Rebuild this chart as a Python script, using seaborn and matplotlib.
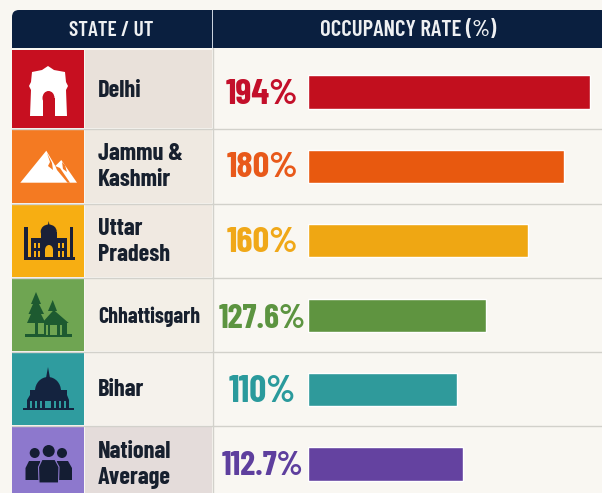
import matplotlib
matplotlib.use("Agg")
import matplotlib.pyplot as plt
from matplotlib.patches import Rectangle, Polygon, Circle, Ellipse, FancyBboxPatch
import pandas as pd
import seaborn as sns

sns.set_theme(style="white")
plt.rcParams['font.family'] = ['Barlow Condensed', 'DejaVu Sans']

# Dataset
states = ["Delhi", "Jammu &\nKashmir", "Uttar\nPradesh", "Chhattisgarh", "Bihar", "National\nAverage"]
rate_labels = ["194%", "180%", "160%", "127.6%", "110%", "112.7%"]
# drawn bar lengths (they are not quite proportional to the printed rates)
bar_values = [194, 175.8, 150.8, 122.3, 102.3, 106.5]
bar_colors = ["#c20f1e", "#e8590f", "#efa713", "#5f9440", "#2f9a9b", "#6442a0"]
icon_colors = ["#c70f20", "#f47a22", "#f7ae12", "#6fa552", "#2f9c9f", "#8d78cd"]
label_colors = ["#c30f2a", "#e8591a", "#f0a818", "#5c9440", "#2a9a9c", "#5e3f9e"]
name_colors = ["#e9e1da", "#efe9e1", "#f0e9e1", "#f3efe7", "#f5f2ec", "#e4dcda"]
headers = ["STATE / UT", "OCCUPANCY RATE (%)"]

NAVY = "#0a1f3f"
PAGE = "#f9f7f2"
LINE = "#d2d1cb"
row_tops = [50, 130, 205, 279, 353, 427]
row_bots = [128, 203, 277, 351, 425, 495]
text_mids = [91, 167, 242, 317, 390, 465]
rate_mids = [94.5, 168, 243.5, 318.5, 391.5, 466]
name_sizes = [17.5, 17.5, 17.5, 15.7, 17.5, 17.5]
rate_sizes = [26.5, 26.5, 26.5, 24.5, 27, 24.5]

fig = plt.figure(figsize=(6.02, 4.93), dpi=100, facecolor=PAGE)

# table background in pixel coordinates
bg = fig.add_axes([0, 0, 1, 1])
bg.set_xlim(0, 602)
bg.set_ylim(493, 0)
bg.axis("off")


def rect(x0, y0, x1, y1, color, z=1):
    bg.add_patch(Rectangle((x0, y0), x1 - x0, y1 - y0, fc=color, ec="none", zorder=z))


def poly(pts, color, z=3):
    bg.add_patch(Polygon(pts, closed=True, fc=color, ec="none", zorder=z))


# header
bg.add_patch(FancyBboxPatch((12, 10), 596, 38, boxstyle="round,pad=0,rounding_size=7",
                            fc=NAVY, ec="none", zorder=2))
rect(12, 30, 602, 48, NAVY, 2)
rect(211.5, 10, 212.5, 48, "#c9d2de", 3)
bg.text(111, 30.5, headers[0], color="#eef0f2", fontsize=15.4, fontweight="semibold", ha="center", va="center", zorder=4)
bg.text(408, 30.5, headers[1], color="#eef0f2", fontsize=16.4, fontweight="semibold", ha="center", va="center", zorder=4)

# rows
for i in range(len(states)):
    top, bot = row_tops[i], row_bots[i]
    rect(12.3, top, 84, bot, icon_colors[i])
    rect(85, top, 212, bot, name_colors[i])
    bg.text(98, text_mids[i], states[i], color="#17202e", fontsize=name_sizes[i], fontweight="bold",
            ha="left", va="center", linespacing=1.2, zorder=4)
    bg.text(262, rate_mids[i], rate_labels[i], color=label_colors[i], fontsize=rate_sizes[i], fontweight="bold",
            ha="center", va="center", zorder=4)
    if i < 5:
        bg.plot([12, 602], [bot + 1, bot + 1], color=LINE, lw=1, zorder=2)
bg.plot([212.5, 212.5], [48, 493], color=LINE, lw=1, zorder=2)

# Delhi gate
poly([(30, 116), (31, 90), (29, 86), (31, 82), (32, 72), (42, 70), (48, 66), (54, 70), (65, 72),
      (66, 82), (68, 86), (66, 90), (67, 116)], "white")
bg.add_patch(Ellipse((48.5, 98), 12, 14, fc=icon_colors[0], ec="none", zorder=4))
rect(42.5, 98, 54.5, 116, icon_colors[0], 4)

# mountains
poly([(20.3, 182.7), (46.3, 150.7), (55.3, 166), (61.3, 160), (77, 182.7)], "white")
poly([(47, 153), (50, 162), (48, 166), (53, 170), (52, 163)], icon_colors[1], 4)
poly([(62, 162), (63, 169), (67, 172), (65, 165)], icon_colors[1], 4)
poly([(55.3, 166), (57, 170), (67.5, 182.7), (70, 182.7), (60, 168)], icon_colors[1], 4)

# Taj
DARK = "#1a2038"
rect(24, 257, 75, 259.5, DARK, 3)
rect(24.3, 227, 27.7, 258, DARK, 3)
rect(69.5, 227, 72.7, 258, DARK, 3)
rect(31, 238, 67, 258, DARK, 3)
bg.add_patch(Ellipse((48.7, 231.5), 16, 14, fc=DARK, ec="none", zorder=3))
poly([(47.7, 226), (48.7, 221), (49.7, 226)], DARK)
rect(41, 232, 57, 240, DARK, 3)
for x in [33.5, 37.5, 58, 62]:
    rect(x, 243, x + 2.2, 248, icon_colors[2], 4)
    rect(x, 251, x + 2.2, 257, icon_colors[2], 4)
rect(45, 250, 53, 257, icon_colors[2], 4)
bg.add_patch(Ellipse((49, 250), 8, 10, fc=icon_colors[2], ec="none", zorder=4))

# trees and hut
G = "#1d5a30"
poly([(36, 292), (41, 304), (39, 304), (44, 314), (41, 314), (45.5, 323), (27, 323), (31, 314),
      (28.5, 314), (33, 304), (31, 304)], G)
rect(34.5, 322, 37.5, 335, G, 3)
poly([(52.7, 300), (57, 311), (48, 311)], G)
poly([(53.7, 310), (68.7, 323), (42, 323)], G)
rect(43.7, 322, 67, 335, G, 3)
rect(50, 325, 57, 335, icon_colors[3], 4)
rect(46, 325, 47.5, 335, icon_colors[3], 4)
rect(60, 325, 61.5, 335, icon_colors[3], 4)
rect(25, 334, 72, 337, G, 3)

# Bihar dome
B = "#14233f"
poly([(48, 367), (50, 378), (46, 378)], B)
bg.add_patch(Ellipse((48, 391), 26, 28, fc=B, ec="none", zorder=3))
rect(30, 390, 67, 395, B, 3)
poly([(30, 395), (67, 395), (69, 400), (27, 400)], B)
rect(27, 400, 69, 408, B, 3)
for x in [30, 35, 40, 54, 59, 64]:
    rect(x, 400.5, x + 2.4, 408, icon_colors[4], 4)
rect(45, 401, 51, 408, icon_colors[4], 4)
rect(23, 408, 74, 410, B, 3)

# people
P = "#141d33"
for cx, cy, r in [(34.7, 453, 5), (62, 453, 5), (48.7, 451, 6)]:
    bg.add_patch(Circle((cx, cy), r, fc=P, ec="none", zorder=3))
poly([(25.5, 480), (25.5, 468), (29, 461), (40, 461), (42, 465), (42, 480)], P)
poly([(72, 480), (72, 468), (68, 461), (57, 461), (55, 465), (55, 480)], P)
bg.add_patch(Polygon([(39, 483), (38.5, 467), (42, 459.5), (55, 459.5), (59, 467), (58.5, 483)],
                     closed=True, fc=P, ec=icon_colors[5], lw=0.8, zorder=5))

# bars on their own axes, aligned with the rows
df = pd.DataFrame({"state": states, "rate": bar_values})
ax = fig.add_axes([308 / 602, 0, 294 / 602, (493 - 54.75) / 493])
ax.patch.set_alpha(0)
sns.barplot(data=df, x="rate", y="state", hue="state", palette=bar_colors, width=0.445,
            legend=False, saturation=1, ax=ax)
ax.set_xlim(0, 294 / 1.456)
ax.set_ylim(5.39, -0.5)
ax.axis("off")

plt.savefig("out.png", dpi=100, facecolor=PAGE)
